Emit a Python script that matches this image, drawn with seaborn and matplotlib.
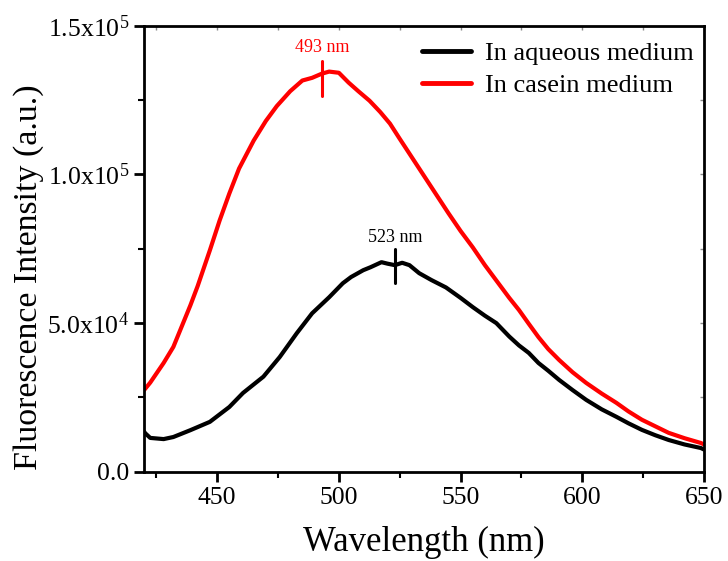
import numpy as np
import pandas as pd
import matplotlib
matplotlib.use("Agg")
import matplotlib.pyplot as plt
from matplotlib.ticker import FixedLocator, NullFormatter
import seaborn as sns

# ---- data ----
aq_wl = [420, 420.4, 422.5, 428, 432, 439, 447, 455, 460.6, 469, 475.7, 482.7, 489, 496,
         501.6, 505, 510, 513, 517.5, 520, 523, 526, 529, 533, 538, 544, 550, 555, 560, 564.7,
         570, 574, 578, 582, 586, 590.5, 596, 601.6, 608, 614, 619, 624.5, 630, 635.5, 642, 648.7, 650]
aq_int = [13500, 13000, 11400, 11000, 11700, 14000, 16800, 21800, 26500, 32000, 38600, 46600,
          53300, 58700, 63400, 65500, 67800, 68800, 70500, 70000, 69500, 70300, 69500, 66800,
          64500, 62000, 58500, 55400, 52500, 50000, 45500, 42500, 40000, 36600, 34000, 30900,
          27500, 24200, 21000, 18500, 16300, 14100, 12300, 10700, 9200, 8000, 7500]

cas_wl = [420, 422.5, 428, 432, 436, 439, 442, 444.5, 447, 451, 455, 459, 465, 470, 474.5, 480, 485,
          489, 493, 496, 500, 504, 508, 512.6, 517, 521, 525, 529, 533, 537, 541, 545, 550,
          555, 560, 565, 570, 574, 578, 582, 586, 590.5, 596, 601.6, 608, 614, 619, 624.5,
          630, 635.5, 642, 648.7, 650]
cas_int = [27500, 30000, 36600, 42000, 50000, 56000, 62500, 68500, 74500, 84500, 93600, 102000, 111400,
           118000, 123000, 128000, 131600, 132500, 133900, 134600, 134200, 130900, 128000,
           124800, 121000, 117100, 112000, 107000, 102000, 97000, 92000, 87000, 81000, 75500,
           69500, 64000, 58500, 54400, 49800, 45300, 41300, 37600, 33500, 29900, 26300, 23200,
           20300, 17500, 15300, 13100, 11300, 9700, 9200]

series = ["In aqueous medium", "In casein medium"]
colors = ["#000000", "#ff0000"]

peak_wl = [523, 493]
peak_lo = [63400, 126500]
peak_hi = [75000, 138300]
peak_text_y = [75800, 139700]
peak_labels = ["523 nm", "493 nm"]

xticks = [450, 500, 550, 600, 650]
xminor = [425, 475, 525, 575, 625]
yticks = [0, 50000, 100000, 150000]
yminor = [25000, 75000, 125000]
ytick_labels = ["0.0", "5.0x10$^{4}$", "1.0x10$^{5}$", "1.5x10$^{5}$"]

df = pd.concat([
    pd.DataFrame({"Wavelength": aq_wl, "Intensity": aq_int, "Medium": series[0]}),
    pd.DataFrame({"Wavelength": cas_wl, "Intensity": cas_int, "Medium": series[1]}),
])

sns.set_theme(style="white")
plt.rcParams["font.family"] = ["Liberation Serif", "DejaVu Serif"]
plt.rcParams["mathtext.fontset"] = "custom"
plt.rcParams["mathtext.rm"] = "Liberation Serif"
plt.rcParams["mathtext.it"] = "Liberation Serif:italic"
plt.rcParams["mathtext.bf"] = "Liberation Serif:bold"
for k in ["text.color", "axes.labelcolor", "xtick.color", "ytick.color",
          "xtick.labelcolor", "ytick.labelcolor"]:
    plt.rcParams[k] = "black"

fig = plt.figure(figsize=(7.28, 5.61), dpi=100)
ax = fig.add_axes([0.198, 0.159, 0.769, 0.795])

sns.lineplot(data=df, x="Wavelength", y="Intensity", hue="Medium",
             palette=dict(zip(series, colors)), linewidth=3, ax=ax,
             sort=True, estimator=None)

for wl, lo, hi, ty, lab, c in zip(peak_wl, peak_lo, peak_hi, peak_text_y, peak_labels, colors):
    ax.plot([wl, wl], [lo, hi], color=c, lw=2.2)
    ax.text(wl, ty, lab, color=c, ha="center", va="bottom", fontsize=13)

ax.set_xlim(420, 650)
ax.set_ylim(0, 150000)
ax.xaxis.set_major_locator(FixedLocator(xticks))
ax.xaxis.set_minor_locator(FixedLocator(xminor))
ax.yaxis.set_major_locator(FixedLocator(yticks))
ax.yaxis.set_minor_locator(FixedLocator(yminor))
ax.set_yticklabels(ytick_labels)
ax.set_xticklabels([str(t) for t in xticks])

for s in ax.spines.values():
    s.set_linewidth(2)
    s.set_color("black")

ax.tick_params(axis="both", which="major", direction="out", length=7, width=2,
               labelsize=18.5, color="black", labelcolor="black",
               bottom=True, left=True, pad=4)
ax.tick_params(axis="both", which="minor", direction="out", length=4, width=1.5,
               color="black", bottom=True, left=True)

# faint inward ticks on top and right spines
top = ax.secondary_xaxis("top")
top.xaxis.set_major_locator(FixedLocator(xticks + xminor))
top.xaxis.set_major_formatter(NullFormatter())
top.tick_params(direction="in", length=3, width=1, color="#888888")
top.spines["top"].set_visible(False)
right = ax.secondary_yaxis("right")
right.yaxis.set_major_locator(FixedLocator(yticks + yminor))
right.yaxis.set_major_formatter(NullFormatter())
right.tick_params(direction="in", length=3, width=1, color="#888888")
right.spines["right"].set_visible(False)

ax.set_xlabel("Wavelength (nm)", fontsize=25, labelpad=12, color="black")
ax.set_ylabel("Fluorescence Intensity (a.u.)", fontsize=24.4, color="black")
ax.yaxis.set_label_coords(-0.178, 0.437)

leg = ax.legend(loc="upper right", bbox_to_anchor=(0.996, 0.982), frameon=False,
                fontsize=19, handlelength=1.85, handletextpad=0.55,
                borderaxespad=0.0, labelspacing=0.32, borderpad=0.3)
for h in leg.get_lines():
    h.set_linewidth(3.5)
for t in leg.get_texts():
    t.set_color("black")

fig.savefig("out.png", dpi=100)
